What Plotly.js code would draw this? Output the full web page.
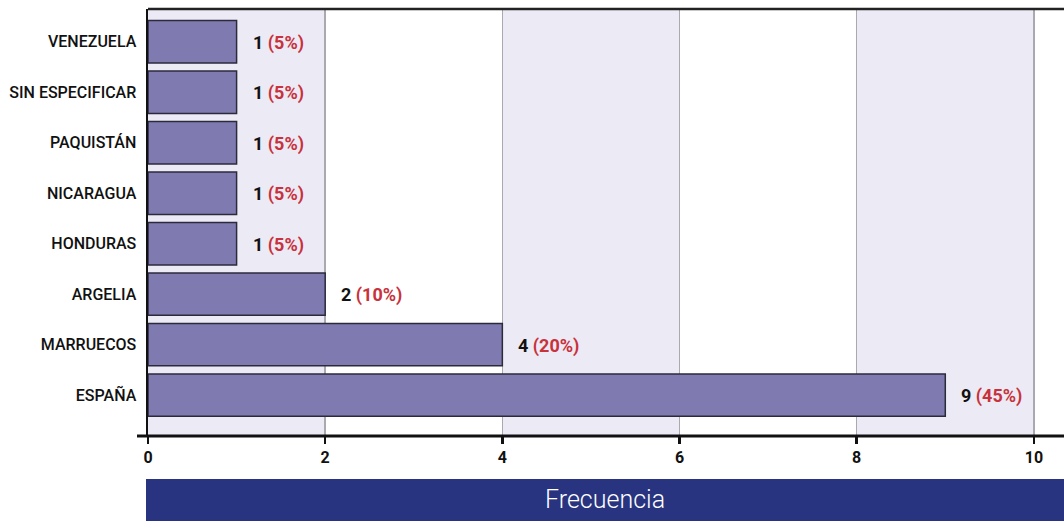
<!DOCTYPE html>
<html><head><meta charset="utf-8">
<script src="https://cdn.plot.ly/plotly-3.0.1.min.js"></script>
<style>html,body{margin:0;padding:0;background:#fff}#chart{width:1064px;height:521px}</style>
</head><body><div id="chart"></div>
<script>
const categories = ["ESPAÑA","MARRUECOS","ARGELIA","HONDURAS","NICARAGUA","PAQUISTÁN","SIN ESPECIFICAR","VENEZUELA"];
const values = [9,4,2,1,1,1,1,1];
const tickVals = [0,2,4,6,8,10];
const bandStarts = [0,4,8];

const total = values.reduce((a,b)=>a+b,0);
const FONT = "Roboto,'Liberation Sans',sans-serif";

const trace = {
  type:'bar', orientation:'h',
  x: values, y: categories,
  marker:{color:'#7F7BB1', line:{color:'#2b2a3c', width:1.5}},
  width: 0.84, hoverinfo:'none'
};

const shapes = bandStarts.map(s=>({type:'rect', layer:'below', xref:'x', yref:'paper',
  x0:s, x1:s+2, y0:0, y1:1, fillcolor:'#ECEAF4', line:{width:0}}));
shapes.push({type:'line', xref:'paper', yref:'paper', x0:0, x1:1, y0:1, y1:1, line:{color:'#222', width:2.5}});
shapes.push({type:'line', xref:'paper', yref:'paper', x0:-11/916, x1:1, y0:0, y1:0, line:{color:'#111', width:3}});
shapes.push({type:'rect', xref:'paper', yref:'paper', x0:-2/916, x1:1, ysizemode:'pixel', yanchor:0, y0:-43, y1:-86, fillcolor:'#283480', line:{width:0}});

const annotations = values.map((v,i)=>({
  x:v, y:categories[i], xref:'x', yref:'y', xanchor:'left', yanchor:'middle', xshift:14, yshift:-1, showarrow:false,
  text:'<b>'+v+'</b> <b><span style="color:#C8323C">('+Math.round(v/total*100)+'%)</span></b>',
  font:{family:FONT, size:18, color:'#111'}
}));
annotations.push({xref:'paper', yref:'paper', x:(0.5-1/916), y:0, yshift:-63, xanchor:'center', yanchor:'middle',
  showarrow:false, text:'Frecuencia', font:{family:FONT, size:25, color:'#fff', weight:300}});

const layout = {
  width:1064, height:521,
  margin:{l:148, r:0, t:9, b:85, pad:0},
  paper_bgcolor:'#fff', plot_bgcolor:'#fff',
  showlegend:false, bargap:0.16,
  xaxis:{range:[0,10.34], tickvals:tickVals, ticktext:tickVals.map(String),
    showgrid:true, gridcolor:'#a9a9b0', gridwidth:1.5, zeroline:false,
    showline:false, ticks:'outside', ticklen:7, tickwidth:2.5, tickcolor:'#111',
    tickfont:{family:FONT, size:16, color:'#111', weight:'bold'}, fixedrange:true},
  yaxis:{type:'category', categoryorder:'array', categoryarray:categories, range:[-0.81,7.65],
    showline:true, linecolor:'#111', linewidth:2.5, ticks:'', ticklabelstandoff:6,
    tickfont:{family:FONT, size:16, color:'#111', weight:500}, showgrid:false, zeroline:false, fixedrange:true},
  shapes:shapes, annotations:annotations
};
Plotly.newPlot('chart',[trace],layout,{displayModeBar:false,staticPlot:true});
</script></body></html>
